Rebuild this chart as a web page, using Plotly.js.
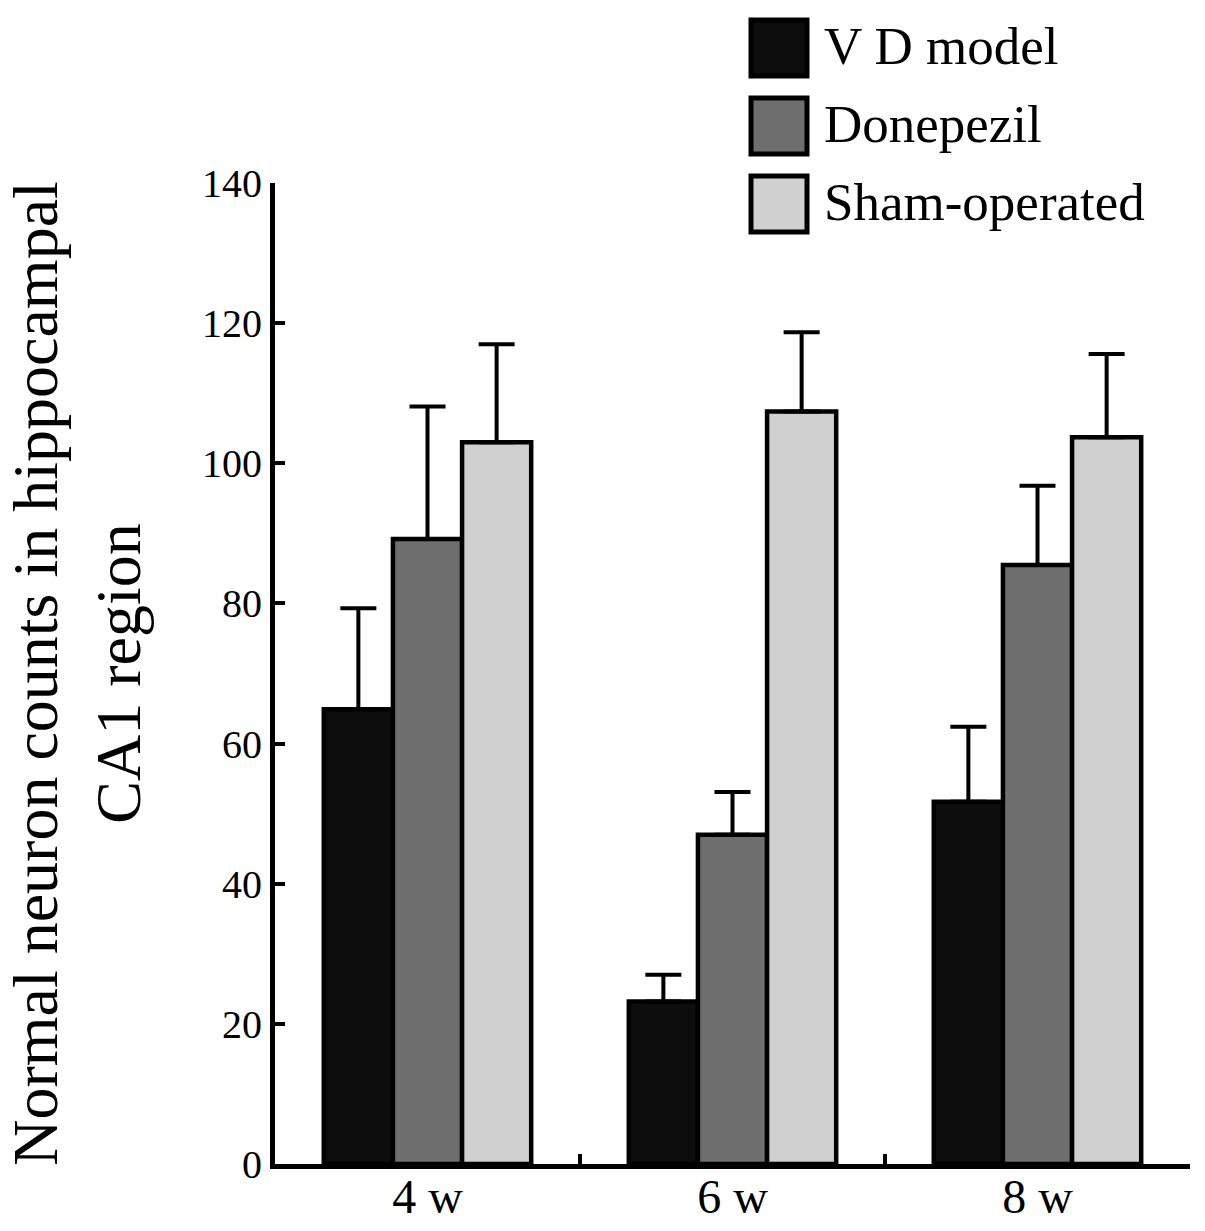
<!DOCTYPE html>
<html>
<head>
<meta charset="utf-8">
<script src="https://cdn.plot.ly/plotly-3.0.1.min.js"></script>
<style>html,body{margin:0;padding:0;background:#fff;}#chart{width:1205px;height:1231px;}</style>
</head>
<body>
<div id="chart"></div>
<script>
// ---- data ----
var categories = ["4 w", "6 w", "8 w"];
var seriesNames = ["V D model", "Donepezil", "Sham-operated"];
var vdModel = [64.9, 23.2, 51.7];
var vdModelErr = [14.4, 3.8, 10.7];
var donepezil = [89.2, 47.0, 85.5];
var donepezilErr = [18.9, 6.1, 11.3];
var shamOperated = [103.0, 107.4, 103.7];
var shamOperatedErr = [14.0, 11.3, 11.9];
var yTicks = [0, 20, 40, 60, 80, 100, 120, 140];

// ---- styling ----
var colors = ["#0d0d0d", "#6e6e6e", "#d0d0d0"];
var FONT = "Liberation Serif, Times New Roman, serif";
var values = [vdModel, donepezil, shamOperated];
var errs = [vdModelErr, donepezilErr, shamOperatedErr];

var traces = values.map(function (v, i) {
  return {
    type: "bar",
    name: seriesNames[i],
    x: categories,
    y: v,
    marker: { color: colors[i], line: { color: "#000", width: 4.5 } },
    error_y: {
      type: "data",
      symmetric: false,
      array: errs[i],
      arrayminus: errs[i].map(function () { return 0; }),
      color: "#000",
      thickness: 4,
      width: 18
    },
    showlegend: false,
    hoverinfo: "x+y+name"
  };
});

// custom legend (large boxes like the reference)
var L = 275, R = 1190, T = 183, B = 1164;
function px2x(p) { return (p - L) / (R - L); }
function px2y(p) { return (B - p) / (B - T); }
var boxTops = [20, 98, 176];
var shapes = [], annotations = [];
seriesNames.forEach(function (n, i) {
  shapes.push({
    type: "rect", xref: "paper", yref: "paper",
    x0: px2x(751), x1: px2x(807), y0: px2y(boxTops[i]), y1: px2y(boxTops[i] + 56),
    fillcolor: colors[i], line: { color: "#000", width: 5 }
  });
  annotations.push({
    xref: "paper", yref: "paper", x: px2x(822), y: px2y(boxTops[i] + 26),
    xanchor: "left", yanchor: "middle", showarrow: false,
    text: n, font: { family: FONT, size: 53, color: "#000" }
  });
});

var layout = {
  width: 1205, height: 1231,
  margin: { l: L, r: 1205 - R, t: T, b: 1231 - B, pad: 0 },
  paper_bgcolor: "#fff", plot_bgcolor: "#fff",
  barmode: "group", bargap: 0.32, bargroupgap: 0,
  font: { family: FONT, color: "#000" },
  xaxis: {
    type: "category",
    range: [-0.5, 2.5],
    showline: true, linecolor: "#000", linewidth: 5,
    ticks: "inside", tickson: "boundaries", ticklen: 10, tickwidth: 4, tickcolor: "#000",
    showgrid: false, zeroline: false,
    tickfont: { family: FONT, size: 48, color: "#000" },
    ticklabelstandoff: -14,
    automargin: false
  },
  yaxis: {
    range: [0, 140],
    tickvals: yTicks,
    showline: true, linecolor: "#000", linewidth: 5,
    ticks: "inside", ticklen: 10, tickwidth: 4, tickcolor: "#000",
    showgrid: false, zeroline: false,
    tickfont: { family: FONT, size: 40, color: "#000" },
    ticklabelstandoff: 0,
    title: {
      text: "Normal neuron counts in hippocampal<br>CA1 region",
      font: { family: FONT, size: 64, color: "#000" },
      standoff: 48
    },
    automargin: false
  },
  shapes: shapes,
  annotations: annotations
};

Plotly.newPlot("chart", traces, layout, { displayModeBar: false, staticPlot: true });
</script>
</body>
</html>
